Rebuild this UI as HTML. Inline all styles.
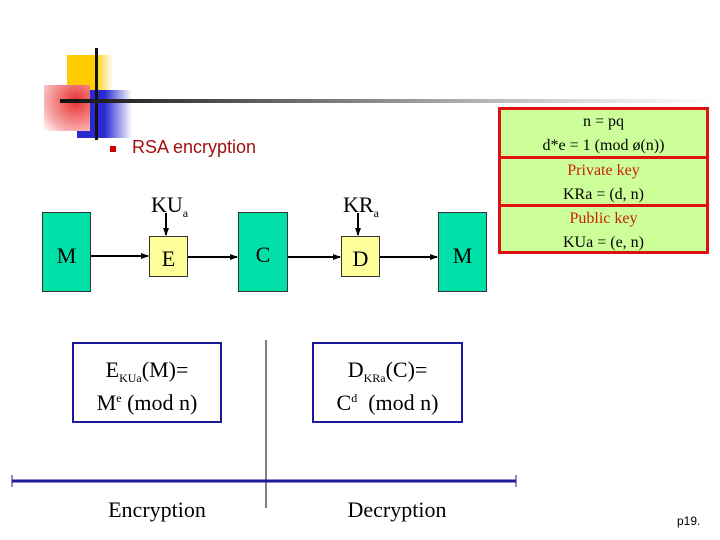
<!DOCTYPE html>
<html><head><style>
body{margin:0;width:720px;height:540px;background:#fff;position:relative;overflow:hidden;font-family:"Liberation Serif",serif}
.a{position:absolute}
.g{background:#00e0a8;border:1px solid #333;box-sizing:border-box;text-align:center;font-size:22px}
.y{background:#ffff99;border:1px solid #333;box-sizing:border-box;text-align:center;font-size:22px}
.r{position:absolute;left:498px;width:211px;background:#ccff99;border:3px solid #dd1111;box-sizing:border-box;text-align:center;font-size:16px;line-height:24px}
.rt{color:#cc2200}
.sb{font-size:12px;position:relative;top:5px}
.sp{font-size:12px;position:relative;top:-8px}
</style></head><body>
<div class="a" style="left:67px;top:55px;width:46px;height:47px;background:linear-gradient(90deg,#ffcc00 60%,#fff)"></div>
<div class="a" style="left:77px;top:90px;width:55px;height:48px;background:linear-gradient(90deg,#2a2ad0 50%,#fff)"></div>
<div class="a" style="left:44px;top:85px;width:46px;height:46px;background:radial-gradient(circle at 70% 35%,#e83030,#f8b0b0 70%,#fff)"></div>
<div class="a" style="left:95px;top:48px;width:3px;height:92px;background:#111"></div>
<div class="a" style="left:60px;top:99px;width:660px;height:4px;background:linear-gradient(90deg,#111,#777 40%,#ddd 80%,#fff)"></div>
<div class="a" style="left:110px;top:146px;width:6px;height:6px;background:#cc0000"></div>
<div class="a" style="left:132px;top:137px;font-family:'Liberation Sans',sans-serif;font-size:18px;color:#a01010">RSA encryption</div>

<div class="a" style="left:151px;top:192px;font-size:22px">KU<span class="sb">a</span></div>
<div class="a" style="left:343px;top:192px;font-size:22px">KR<span class="sb">a</span></div>

<svg class="a" style="left:0;top:0" width="720" height="540">
<defs><marker id="ar" markerWidth="8" markerHeight="8" refX="7" refY="4" orient="auto" markerUnits="userSpaceOnUse"><path d="M0,1 L8,4 L0,7z" fill="#000"/></marker></defs>
<g stroke="#000" stroke-width="2" marker-end="url(#ar)">
<line x1="91" y1="256" x2="148" y2="256"/><line x1="188" y1="257" x2="237" y2="257"/>
<line x1="288" y1="257" x2="340" y2="257"/><line x1="380" y1="257" x2="437" y2="257"/>
<line x1="166" y1="213" x2="166" y2="235"/><line x1="358" y1="213" x2="358" y2="235"/>
</g>
<line x1="266" y1="340" x2="266" y2="508" stroke="#000" stroke-width="1"/>
<line x1="12" y1="481" x2="516" y2="481" stroke="#1a1a99" stroke-width="3"/>
<line x1="12" y1="475" x2="12" y2="487" stroke="#1a1a99" stroke-width="1"/>
<line x1="516" y1="475" x2="516" y2="487" stroke="#1a1a99" stroke-width="1"/>
</svg>

<div class="a g" style="left:42px;top:212px;width:49px;height:80px"><div style="margin-top:30px">M</div></div>
<div class="a y" style="left:149px;top:236px;width:39px;height:41px;line-height:44px">E</div>
<div class="a g" style="left:238px;top:212px;width:50px;height:80px"><div style="margin-top:29px">C</div></div>
<div class="a y" style="left:341px;top:236px;width:39px;height:41px;line-height:44px">D</div>
<div class="a g" style="left:438px;top:212px;width:49px;height:80px"><div style="margin-top:30px">M</div></div>

<div class="r" style="top:107px;height:52px">n = pq<br>d*e = 1 (mod ø(n))</div>
<div class="r" style="top:156px;height:51px"><span class="rt">Private key</span><br>KRa = (d, n)</div>
<div class="r" style="top:204px;height:50px"><span class="rt">Public key</span><br>KUa = (e, n)</div>

<div class="a" style="left:72px;top:342px;width:150px;height:81px;border:2px solid #1a1a99;box-sizing:border-box;text-align:center;font-size:22px;line-height:30px;padding-top:11px">E<span class="sb">KUa</span>(M)=<br>M<span class="sp">e</span> (mod n)</div>
<div class="a" style="left:312px;top:342px;width:151px;height:81px;border:2px solid #1a1a99;box-sizing:border-box;text-align:center;font-size:22px;line-height:30px;padding-top:11px">D<span class="sb">KRa</span>(C)=<br>C<span class="sp">d</span>&nbsp; (mod n)</div>

<div class="a" style="left:57px;width:200px;top:497px;text-align:center;font-size:22px">Encryption</div>
<div class="a" style="left:297px;width:200px;top:497px;text-align:center;font-size:22px">Decryption</div>
<div class="a" style="left:677px;top:514px;font-family:'Liberation Sans',sans-serif;font-size:12px">p19.</div>
</body></html>
